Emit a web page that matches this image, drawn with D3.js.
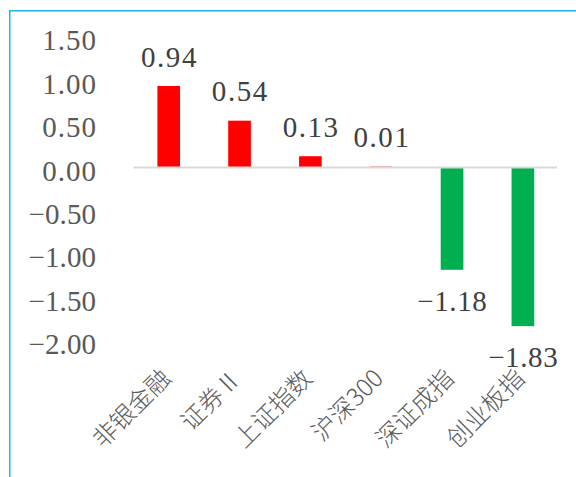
<!DOCTYPE html>
<html>
<head>
<meta charset="utf-8">
<script src="https://cdn.jsdelivr.net/npm/d3@7"></script>
<style>
  html, body { margin: 0; padding: 0; background: #fff; }
  svg { display: block; }
</style>
</head>
<body>
<div id="chart"></div>
<script>
// ---- data ----
const categories = ["非银金融", "证券Ⅱ", "上证指数", "沪深300", "深证成指", "创业板指"];
const values = [0.94, 0.54, 0.13, 0.01, -1.18, -1.83];
const yTicks = [1.5, 1.0, 0.5, 0.0, -0.5, -1.0, -1.5, -2.0];

// ---- layout ----
const W = 576, H = 477;
const svg = d3.select("#chart").append("svg")
  .attr("width", W).attr("height", H);

svg.append("rect").attr("width", W).attr("height", H).attr("fill", "#fff");

// chart border (extends beyond the picture on right and bottom)
svg.append("rect")
  .attr("x", 9.75).attr("y", 10.75)
  .attr("width", W + 20).attr("height", H + 20)
  .attr("fill", "none")
  .attr("stroke", "#1FB3EE")
  .attr("stroke-width", 1.5);

const x = d3.scaleBand()
  .domain(categories)
  .range([133.3, 558.3])
  .paddingInner(0.68)
  .paddingOuter(0.34);

const y = d3.scaleLinear()
  .domain([-2, 1.5])
  .range([340.9, 37.45]);

const fmt = d3.format(".2f");
const numFont = "'Liberation Serif', 'Times New Roman', serif";

// y tick labels
const yAxis = d3.axisLeft(y).tickValues(yTicks).tickFormat(fmt).tickSize(0).tickPadding(0);
const gy = svg.append("g").attr("transform", "translate(96,0)").call(yAxis);
gy.select(".domain").remove();
gy.selectAll("text")
  .attr("x", 0)
  .attr("dy", null)
  .attr("y", 12.5)
  .attr("text-anchor", "end")
  .attr("font-family", numFont)
  .attr("font-size", 29)
  .attr("fill", "#595959")
  .attr("textLength", d => fmt(d).length * 13.7 - 1)
  .attr("lengthAdjust", "spacing");

// bars
svg.append("g").selectAll("rect")
  .data(values)
  .join("rect")
  .attr("x", (d, i) => x(categories[i]))
  .attr("width", x.bandwidth())
  .attr("y", d => y(Math.max(0, d)))
  .attr("height", d => Math.abs(y(d) - y(0)))
  .attr("fill", d => d >= 0 ? "#FF0000" : "#00B050");

// zero line
svg.append("line")
  .attr("x1", 133.3).attr("x2", 557)
  .attr("y1", y(0)).attr("y2", y(0))
  .attr("stroke", "#D9D9D9")
  .attr("stroke-width", 2);

// data labels
svg.append("g").selectAll("text")
  .data(values)
  .join("text")
  .attr("x", (d, i) => x(categories[i]) + x.bandwidth() / 2)
  .attr("y", d => d >= 0 ? y(d) - 19.5 : y(d) + 40.8)
  .attr("text-anchor", "middle")
  .attr("font-family", numFont)
  .attr("font-size", 29)
  .attr("fill", "#404040")
  .attr("textLength", d => fmt(d).length * 14.1 - 1)
  .attr("lengthAdjust", "spacing")
  .text(d => fmt(d));

// category labels, rotated -45
const xAxis = d3.axisBottom(x).tickSize(0).tickPadding(0);
const gx = svg.append("g").attr("transform", "translate(0,380)").call(xAxis);
gx.select(".domain").remove();
gx.selectAll(".tick text")
  .attr("x", 0).attr("y", 0).attr("dy", null)
  .attr("transform", "translate(3.5,0) rotate(-45)")
  .attr("text-anchor", "end")
  .attr("font-family", "'Noto Sans CJK SC', sans-serif")
  .attr("font-weight", 300)
  .attr("font-size", 24.5)
  .attr("fill", "#5a5a5a");
</script>
</body>
</html>
